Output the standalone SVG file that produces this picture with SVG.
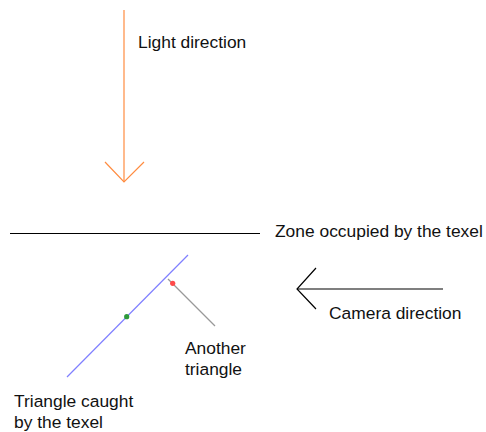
<svg xmlns="http://www.w3.org/2000/svg" width="486" height="432" viewBox="0 0 486 432">
<style>
text{font-family:"Liberation Sans",Arial,sans-serif;font-size:17.4px;fill:#111}
.ln{fill:none;stroke-width:1.2}
</style>
<rect width="486" height="432" fill="#fff"/>
<g id="connectors">
<g id="light-arrow" class="ln" stroke="#ff8c40">
<line x1="124" y1="10" x2="124" y2="182"/>
<polyline points="105,162 124,182 144,162"/>
</g>
<line id="texel-zone" class="ln" stroke="#000" x1="10" y1="233.5" x2="260" y2="233.5"/>
<g id="camera-arrow" class="ln" stroke="#000">
<line x1="297" y1="289" x2="443" y2="289"/>
<polyline points="316,268 297,289 316,309"/>
</g>
<line id="triangle-line" class="ln" stroke="#8080ff" x1="67" y1="377" x2="188" y2="255"/>
<line id="pointer" class="ln" stroke="#999" x1="168" y1="279" x2="215" y2="326"/>
</g>
<g id="dots">
<circle cx="126.7" cy="316.7" r="2.6" fill="#2e9a3a"/>
<circle cx="172.7" cy="283.3" r="2.6" fill="#ff4a4a"/>
</g>
<g id="labels">
<text x="138" y="48">Light direction</text>
<text x="275" y="237">Zone occupied by the texel</text>
<text x="329" y="319">Camera direction</text>
<text x="185" y="354">Another</text>
<text x="185" y="375">triangle</text>
<text x="14" y="407">Triangle caught</text>
<text x="14" y="428">by the texel</text>
</g>
</svg>
